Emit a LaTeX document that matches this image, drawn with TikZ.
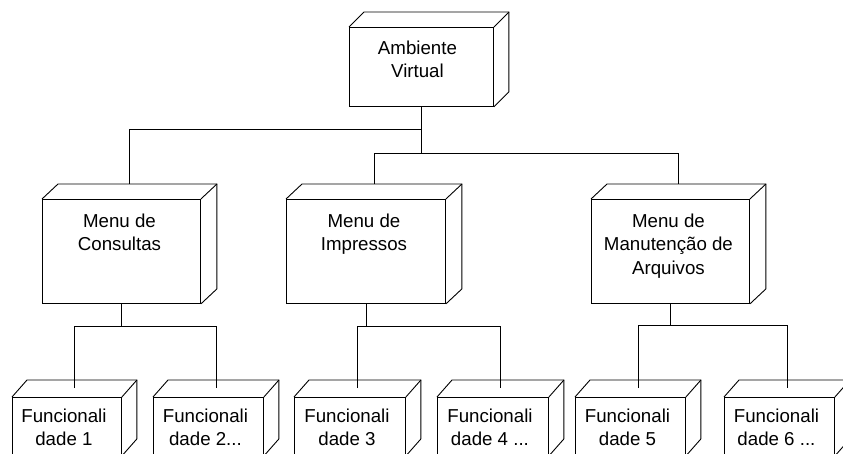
\documentclass[tikz,border=0pt]{standalone}
\usepackage{fontspec}
\setmainfont{Liberation Sans}
\usetikzlibrary{calc}
\tikzset{
  edge/.style={draw=black, line width=0.9pt},
  face/.style={draw=black, line width=0.9pt, fill=white, anchor=north west, inner sep=0pt},
  lbl/.style={anchor=north, inner sep=0pt, align=center, font=\fontsize{18.7}{23.5}\selectfont}
}
% #1 name, #2 x, #3 y, #4 w, #5 h, #6 dx, #7 dy
\newcommand\nodebox[7]{%
  \node[face, minimum width=#4pt, minimum height=#5pt] (#1) at (#2,#3) {};
  \draw[edge, line join=miter] (#1.north west) -- ++(#6,-#7) -| ($(#1.south east)+(#6,-#7)$) -- (#1.south east);
  \draw[edge] (#1.north east) -- ++(#6,-#7);
}
\begin{document}
\begin{tikzpicture}[x=1pt, y=-1pt]
\useasboundingbox (0,0) rectangle (843,453);
\fill[white] (0,0) rectangle (843,453);

% top box
\nodebox{top}{349}{27}{144}{79}{15}{15}
\node[lbl] (top-t) at ($(top.north)+(-4,10.5)$) {\strut Ambiente\\Virtual};

% middle boxes
\nodebox{cons}{42}{199}{158}{104}{16}{15}
\node[lbl] (cons-t) at ($(cons.north)+(-2,11.5)$) {\strut Menu de\\Consultas};
\nodebox{imp}{286}{199}{159}{104}{16}{15}
\node[lbl] (imp-t) at ($(imp.north)+(-2,11.5)$) {\strut Menu de\\Impressos};
\nodebox{man}{591}{199}{158}{104}{16}{15}
\node[lbl] (man-t) at ($(man.north)+(-2,11.5)$) {\strut Menu de\\Manutenção de\\Arquivos};

% bottom boxes
\nodebox{f1}{12}{397}{109}{58}{15}{17}
\node[lbl] (f1-t) at ($(f1.north)+(-3,8.5)$) {\strut Funcionali\\dade 1};
\nodebox{f2}{153}{397}{110}{58}{15}{17}
\node[lbl] (f2-t) at ($(f2.north)+(-3,8.5)$) {\strut Funcionali\\dade 2...};
\nodebox{f3}{294}{397}{111}{58}{15}{17}
\node[lbl] (f3-t) at ($(f3.north)+(-3,8.5)$) {\strut Funcionali\\dade 3};
\nodebox{f4}{437}{397}{111}{58}{15}{17}
\node[lbl] (f4-t) at ($(f4.north)+(-3,8.5)$) {\strut Funcionali\\dade 4 ...};
\nodebox{f5}{575}{397}{110}{58}{15}{17}
\node[lbl] (f5-t) at ($(f5.north)+(-3,8.5)$) {\strut Funcionali\\dade 5};
\nodebox{f6}{724}{397}{110}{58}{15}{17}
\node[lbl] (f6-t) at ($(f6.north)+(-3,8.5)$) {\strut Funcionali\\dade 6 ...};

% connection points
\coordinate (consT) at ($(cons.north)+(8,-15)$);
\coordinate (impT) at ($(imp.north)+(8,-15)$);
\coordinate (manT) at ($(man.north)+(8,-15)$);
\foreach \n in {f1,f2,f3,f4,f5,f6} {\coordinate (\n T) at ($(\n.north)+(7.5,-9)$);}

\coordinate (j1) at ($(top.south)+(0,23)$);
\coordinate (j2) at ($(top.south)+(0,47)$);
\draw[edge] (top.south) -- (j2);
\draw[edge] (j1) -| (consT);
\draw[edge] (impT) |- (j2) -| (manT);

\coordinate (c1) at ($(cons.south)+(0,23)$);
\draw[edge] (cons.south) -- (c1);
\draw[edge] (f1T) |- (c1) -| (f2T);
\coordinate (c2) at ($(imp.south)+(0,23)$);
\draw[edge] (imp.south) -- (c2);
\draw[edge] (f3T) |- (c2) -| (f4T);
\coordinate (c3) at ($(man.south)+(0,22)$);
\draw[edge] (man.south) -- (c3);
\draw[edge] (f5T) |- (c3) -| (f6T);
\end{tikzpicture}
\end{document}
